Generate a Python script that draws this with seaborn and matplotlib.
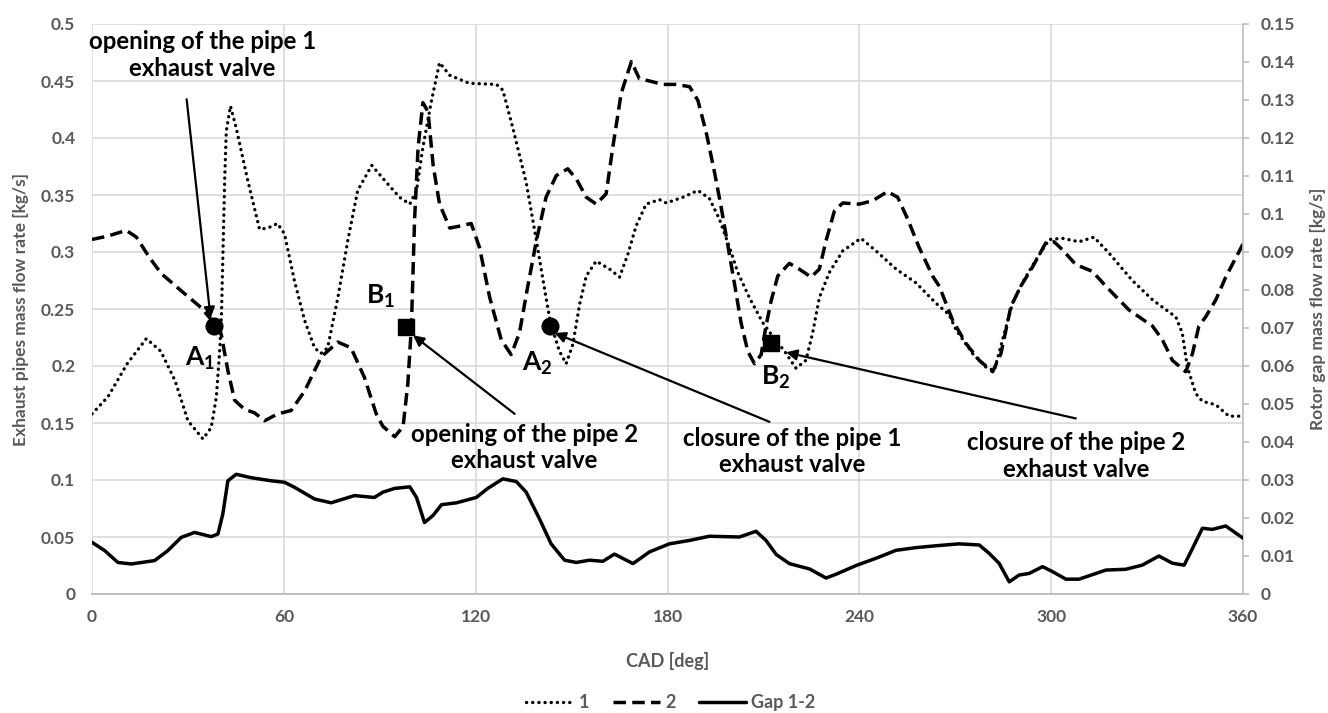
import matplotlib
matplotlib.use("Agg")
import matplotlib.pyplot as plt
from matplotlib.lines import Line2D
import seaborn as sns
import pandas as pd

# ---- data -------------------------------------------------------------
# exhaust pipe 1 mass flow rate [kg/s] vs crank angle [deg]
cad_1 = [0, 5, 11, 17, 21.5, 26, 30, 34.7, 37.3, 38.9, 40, 40.5, 41, 41.5, 42, 43.3,
         45, 48.7, 52.4, 55, 58, 60.2, 63.3, 66.5, 69.6, 71.6, 73.7, 76.9, 80, 83.1,
         87.5, 92.1, 96.2, 99.4, 101.5, 103.5, 106.2, 108.7, 111.9, 118, 126.5, 128.5,
         131.7, 135.8, 139, 142, 143.4, 146.2, 148.3, 150.4, 152.5, 154.6, 157.7, 161.9,
         165, 167.6, 170.2, 173.3, 177.5, 179.6, 184.8, 189.5, 193.1, 196.2, 199.4, 202,
         205.6, 209.8, 212.9, 216.6, 220.2, 223.3, 225.4, 227.5, 230.6, 234.8, 240.5,
         245.2, 251.5, 257.7, 264, 268.1, 270.2, 275.4, 279.6, 282.2, 284.8, 287.9, 291,
         295.2, 299.4, 303.5, 308.7, 313.4, 318.1, 325.4, 331.7, 339, 341, 342.6, 345.2,
         347.3, 351.5, 355.6, 360]
flow_1 = [0.158, 0.173, 0.202, 0.224, 0.213, 0.187, 0.152, 0.136, 0.146, 0.173, 0.216,
          0.246, 0.304, 0.363, 0.406, 0.428, 0.41, 0.363, 0.32, 0.321, 0.325, 0.316,
          0.275, 0.24, 0.216, 0.211, 0.216, 0.26, 0.31, 0.354, 0.376, 0.361, 0.348,
          0.342, 0.354, 0.392, 0.433, 0.466, 0.455, 0.448, 0.447, 0.442, 0.408, 0.361,
          0.31, 0.26, 0.238, 0.213, 0.202, 0.219, 0.254, 0.279, 0.292, 0.285, 0.278,
          0.298, 0.323, 0.342, 0.346, 0.343, 0.348, 0.354, 0.347, 0.329, 0.304, 0.282,
          0.26, 0.238, 0.226, 0.213, 0.198, 0.205, 0.229, 0.26, 0.282, 0.301, 0.312,
          0.301, 0.285, 0.273, 0.255, 0.245, 0.232, 0.211, 0.199, 0.196, 0.223, 0.255,
          0.273, 0.293, 0.311, 0.312, 0.309, 0.313, 0.299, 0.275, 0.258, 0.243, 0.229,
          0.199, 0.176, 0.169, 0.166, 0.156, 0.156]

# exhaust pipe 2 mass flow rate [kg/s]
cad_2 = [0, 5, 10.7, 13.9, 18, 21.7, 27.9, 34.2, 38.1, 40.4, 42.5, 44.6, 47.7, 50.8, 54,
         58.1, 62.3, 66.5, 71.7, 76.9, 81, 85.2, 88.9, 91, 94.7, 97.3, 98.8, 99.9, 100.9,
         102, 103.5, 105.1, 106.7, 108.7, 111.9, 115.5, 118.6, 121.2, 124.4, 128, 131.1,
         133.7, 136.3, 139, 142, 145.2, 148.8, 151.5, 154.6, 157.7, 160.8, 162.9, 165.5,
         168.7, 171.2, 174.4, 178.5, 182.7, 186.9, 189.5, 192.1, 194.7, 196.8, 198.8,
         200.9, 203, 205.1, 207.2, 209.3, 210.8, 212.4, 214.5, 218.1, 221.2, 224.9, 227.5,
         229.6, 232.2, 234.8, 240, 244.2, 248.8, 252, 255.1, 258.7, 262.9, 265, 269.2,
         273.3, 277.5, 281.7, 284.3, 287.4, 290.5, 294.2, 298.3, 300.9, 303.5, 307.7,
         312.9, 317.1, 324.4, 331.7, 334.8, 337.9, 342.1, 344.2, 346.2, 348.3, 351.5,
         354.6, 360]
flow_2 = [0.311, 0.314, 0.319, 0.313, 0.295, 0.281, 0.266, 0.251, 0.238, 0.228, 0.196,
          0.17, 0.162, 0.159, 0.152, 0.158, 0.161, 0.178, 0.208, 0.221, 0.216, 0.19,
          0.158, 0.147, 0.138, 0.147, 0.185, 0.235, 0.329, 0.392, 0.431, 0.423, 0.376,
          0.342, 0.321, 0.323, 0.325, 0.304, 0.26, 0.223, 0.21, 0.229, 0.27, 0.31, 0.348,
          0.367, 0.373, 0.364, 0.348, 0.342, 0.351, 0.392, 0.439, 0.467, 0.452, 0.45,
          0.447, 0.447, 0.445, 0.433, 0.405, 0.37, 0.339, 0.307, 0.273, 0.238, 0.213,
          0.202, 0.21, 0.235, 0.257, 0.279, 0.29, 0.285, 0.278, 0.285, 0.31, 0.336,
          0.343, 0.342, 0.345, 0.353, 0.348, 0.329, 0.304, 0.279, 0.27, 0.24, 0.22,
          0.205, 0.195, 0.211, 0.252, 0.27, 0.287, 0.308, 0.309, 0.302, 0.289, 0.283,
          0.27, 0.249, 0.235, 0.223, 0.205, 0.195, 0.211, 0.235, 0.243, 0.258, 0.278,
          0.307]

# rotor gap 1-2 mass flow rate [kg/s] (secondary axis)
cad_gap = [0, 4, 8.1, 12.3, 19.6, 23.7, 27.9, 32.1, 37.3, 39.4, 40.9, 42.5, 45.1, 49.8,
           56, 60.2, 63.3, 69.6, 74.8, 82.1, 88.3, 91, 94.7, 99.4, 101.5, 104, 106.7,
           109.3, 114, 120.2, 123.8, 128.5, 132.7, 135.8, 140, 143.6, 147.8, 151.5, 155.6,
           159.8, 163.4, 169.2, 174.4, 180.6, 186.9, 193.1, 202.5, 207.7, 210.8, 214,
           218.1, 224.4, 229.6, 232.7, 239, 245.2, 251.5, 257.7, 264, 271.2, 277.5, 280.6,
           283.7, 286.9, 290, 293.1, 297.3, 300.4, 304.6, 308.7, 314, 317.1, 323.3, 328.5,
           333.7, 337.9, 341.6, 344.2, 347.3, 350.4, 354.6, 360]
flow_gap = [0.0136, 0.0114, 0.0083, 0.0079, 0.0088, 0.0114, 0.0149, 0.0162, 0.0151,
            0.0158, 0.021, 0.0298, 0.0315, 0.0306, 0.0298, 0.0294, 0.0281, 0.025, 0.024,
            0.0259, 0.0254, 0.0268, 0.0278, 0.0282, 0.0254, 0.0188, 0.0207, 0.0235, 0.024,
            0.0254, 0.0278, 0.0303, 0.0296, 0.0268, 0.0197, 0.0132, 0.0089, 0.0083, 0.0089,
            0.0086, 0.0105, 0.008, 0.0111, 0.0132, 0.0141, 0.0152, 0.015, 0.0165, 0.0141,
            0.0104, 0.008, 0.0066, 0.0042, 0.0052, 0.0075, 0.0094, 0.0115, 0.0122, 0.0127,
            0.0132, 0.0129, 0.0107, 0.0081, 0.0032, 0.005, 0.0054, 0.0072, 0.0059, 0.0039,
            0.0039, 0.0054, 0.0063, 0.0065, 0.0076, 0.01, 0.0081, 0.0076, 0.012, 0.0173,
            0.017, 0.0179, 0.0147]

# valve events: opening (A1, B1) and closure (A2, B2)
event_names = ["A_1", "B_1", "A_2", "B_2"]
event_cad = [38.1, 98.1, 143.4, 212.5]
event_flow = [0.235, 0.234, 0.235, 0.220]
event_marker = ["o", "s", "o", "s"]

event_notes = ["opening of the pipe 1\nexhaust valve",
               "opening of the pipe 2\nexhaust valve",
               "closure of the pipe 1\nexhaust valve",
               "closure of the pipe 2\nexhaust valve"]

left_ticks = [0, 0.05, 0.1, 0.15, 0.2, 0.25, 0.3, 0.35, 0.4, 0.45, 0.5]
left_tick_labels = ["0", "0.05", "0.1", "0.15", "0.2", "0.25", "0.3", "0.35", "0.4",
                    "0.45", "0.5"]
right_ticks = [i / 100 for i in range(16)]
right_tick_labels = ["0", "0.01", "0.02", "0.03", "0.04", "0.05", "0.06", "0.07", "0.08",
                     "0.09", "0.1", "0.11", "0.12", "0.13", "0.14", "0.15"]
x_ticks = [0, 60, 120, 180, 240, 300, 360]

# ---- style ------------------------------------------------------------
sns.set_theme(style="white")
plt.rcParams["font.family"] = ["Lato", "DejaVu Sans"]
plt.rcParams["font.weight"] = "bold"
plt.rcParams["axes.labelweight"] = "bold"
plt.rcParams["mathtext.fontset"] = "custom"
plt.rcParams["mathtext.bf"] = "Lato:bold"
plt.rcParams["mathtext.rm"] = "Lato:bold"

GREY = "#595959"
GRID = "#d9d9d9"
AXIS = "#bfbfbf"

fig = plt.figure(figsize=(13.28, 7.13), dpi=100)
ax = fig.add_axes([92 / 1328, 1 - 594 / 713, 1151 / 1328, 570 / 713])
ax2 = ax.twinx()

df1 = pd.DataFrame({"cad": cad_1, "flow": flow_1})
df2 = pd.DataFrame({"cad": cad_2, "flow": flow_2})
dfg = pd.DataFrame({"cad": cad_gap, "flow": flow_gap})

DOT = (0, (0.05, 1.8))
DASH = (0, (3.6, 1.8))
sns.lineplot(data=df1, x="cad", y="flow", ax=ax, color="black", lw=2.4,
             linestyle=DOT, dash_capstyle="round", zorder=3)
sns.lineplot(data=df2, x="cad", y="flow", ax=ax, color="black", lw=2.5,
             linestyle=DASH, zorder=3)
sns.lineplot(data=dfg, x="cad", y="flow", ax=ax2, color="black", lw=2.5, zorder=3)

# valve event markers and their labels
label_pos = [(33.8, 0.207), (90.2, 0.261), (139.4, 0.202), (213.7, 0.190)]
for name, xc, yc, mk, (lx, ly) in zip(event_names, event_cad, event_flow,
                                       event_marker, label_pos):
    ax.plot([xc], [yc], marker=mk, color="black", markersize=12, zorder=5)
    ax.text(lx, ly, r"$\mathbf{%s}$" % name, ha="center", va="center",
            fontsize=19, color="black", zorder=6)

# annotation texts with arrows pointing at the events
note_pos = [(34.6, 0.473), (135.3, 0.1285), (219.0, 0.125), (307.8, 0.121)]
arrow_tail = [(29.6, 0.434), (132.2, 0.158), (211.9, 0.151), (307.7, 0.154)]
arrow_head = [(37.1, 0.242), (100.4, 0.227), (144.7, 0.229), (217.1, 0.212)]
for note, (tx, ty), tail, head in zip(event_notes, note_pos, arrow_tail, arrow_head):
    ax.text(tx, ty, note, ha="center", va="center", fontsize=17.3,
            fontweight="bold", color="black", linespacing=1.2, zorder=6)
    ax.annotate("", xy=head, xytext=tail,
                arrowprops=dict(arrowstyle="-|>", color="black", lw=1.6,
                                mutation_scale=16, shrinkA=0, shrinkB=0),
                zorder=6)

# ---- axes -------------------------------------------------------------
ax.set_xlim(0, 360)
ax.set_ylim(0, 0.5)
ax2.set_ylim(0, 0.15)
ax.set_xticks(x_ticks)
ax.set_xticklabels([str(t) for t in x_ticks], fontweight="bold")
ax.set_yticks(left_ticks)
ax.set_yticklabels(left_tick_labels, fontweight="bold")
ax2.set_yticks(right_ticks)
ax2.set_yticklabels(right_tick_labels, fontweight="bold")

ax.grid(True, color=GRID, lw=1.2)
ax.set_axisbelow(True)
ax2.grid(False)

for a in (ax, ax2):
    for side in ("top", "left", "right"):
        a.spines[side].set_visible(False)
    a.spines["bottom"].set_color(AXIS)
    a.spines["bottom"].set_linewidth(1.2)
ax2.spines["right"].set_visible(True)
ax2.spines["right"].set_color(AXIS)
ax2.spines["right"].set_linewidth(1.2)

ax.tick_params(axis="both", length=0, labelsize=12.5, labelcolor=GREY)
ax.tick_params(axis="y", pad=12)
ax.tick_params(axis="x", pad=11)
ax2.tick_params(axis="y", length=4, width=1.2, color=AXIS, direction="out",
                labelsize=12.5, labelcolor=GREY, pad=9)

ax.set_xlabel("CAD [deg]", fontsize=13, fontweight="bold", color=GREY)
ax.set_ylabel("Exhaust pipes mass flow rate [kg/s]", fontsize=12.5,
              fontweight="bold", color=GREY)
ax2.set_ylabel("Rotor gap mass flow rate [kg/s]", fontsize=12.5,
               fontweight="bold", color=GREY, rotation=90)
ax.xaxis.set_label_coords(0.5, -0.102)
ax.yaxis.set_label_coords(-0.055, 0.5)
ax2.yaxis.set_label_coords(1.058, 0.5)

handles = [
    Line2D([], [], color="black", lw=2.4, linestyle=DOT, dash_capstyle="round"),
    Line2D([], [], color="black", lw=2.5, linestyle=DASH),
    Line2D([], [], color="black", lw=2.5),
]
leg = ax.legend(handles, ["1", "2", "Gap 1-2"], loc="center",
                bbox_to_anchor=(0.503, -0.191), ncol=3, frameon=False,
                handlelength=2.6, handletextpad=0.3, columnspacing=1.3,
                prop={"size": 13, "weight": "bold"})
for t in leg.get_texts():
    t.set_color(GREY)

fig.savefig("out.png", dpi=100)
